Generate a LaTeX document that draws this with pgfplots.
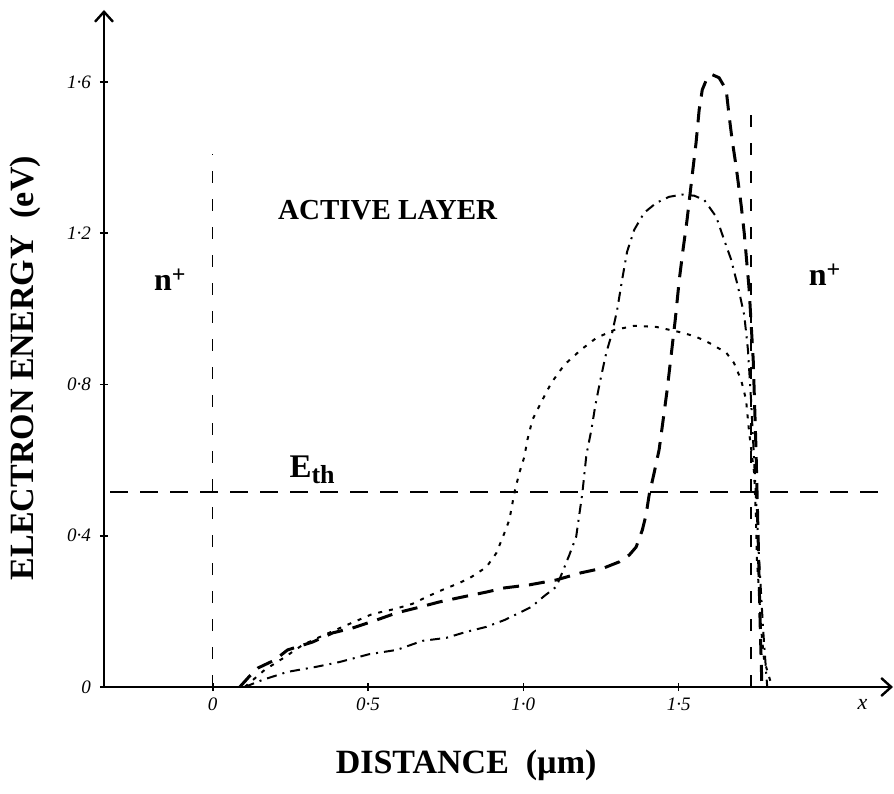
\documentclass[border=0pt]{standalone}
\usepackage{fontspec}
\setmainfont{Liberation Serif}
\usepackage{pgfplots}
\pgfplotsset{compat=1.18}
\usetikzlibrary{arrows.meta}

\pgfplotstableread{
x y
0.087 0
0.119 0.029
0.145 0.050
0.199 0.071
0.241 0.098
0.322 0.119
0.386 0.143
0.450 0.156
0.527 0.177
0.592 0.196
0.656 0.209
0.730 0.225
0.804 0.238
0.881 0.251
0.939 0.262
1.019 0.270
1.106 0.283
1.186 0.302
1.260 0.315
1.309 0.331
1.341 0.349
1.363 0.370
1.383 0.415
1.395 0.455
1.405 0.508
1.421 0.566
1.437 0.627
1.450 0.706
1.463 0.786
1.476 0.878
1.489 0.971
1.502 1.077
1.514 1.156
1.527 1.235
1.543 1.349
1.556 1.439
1.566 1.526
1.576 1.579
1.592 1.611
1.608 1.619
1.630 1.611
1.653 1.579
1.662 1.513
1.672 1.447
1.685 1.376
1.701 1.275
1.711 1.201
1.727 1.050
1.740 0.865
1.749 0.627
1.756 0.389
1.762 0.177
1.768 0
}\longdash

\pgfplotstableread{
x y
0.103 0
0.161 0.019
0.241 0.040
0.331 0.053
0.408 0.066
0.505 0.087
0.592 0.098
0.675 0.122
0.752 0.130
0.817 0.146
0.881 0.159
0.939 0.177
0.987 0.196
1.026 0.212
1.068 0.241
1.106 0.265
1.125 0.302
1.148 0.349
1.170 0.397
1.180 0.455
1.190 0.513
1.203 0.614
1.219 0.680
1.232 0.746
1.248 0.812
1.267 0.884
1.286 0.937
1.302 0.997
1.318 1.077
1.334 1.151
1.357 1.209
1.389 1.254
1.428 1.280
1.469 1.296
1.511 1.302
1.550 1.299
1.582 1.288
1.621 1.243
1.646 1.183
1.669 1.130
1.691 1.058
1.711 0.984
1.723 0.892
1.733 0.759
1.746 0.548
1.759 0.336
1.772 0.151
1.785 0
}\dashdot

\pgfplotstableread{
x y
0.103 0
0.167 0.045
0.232 0.079
0.289 0.111
0.344 0.132
0.418 0.159
0.514 0.193
0.585 0.206
0.643 0.220
0.688 0.238
0.740 0.257
0.794 0.275
0.833 0.291
0.881 0.317
0.913 0.354
0.939 0.407
0.955 0.442
0.971 0.513
0.987 0.566
1.003 0.608
1.013 0.653
1.029 0.706
1.058 0.754
1.090 0.804
1.132 0.852
1.186 0.892
1.235 0.923
1.293 0.944
1.357 0.955
1.428 0.952
1.511 0.937
1.556 0.926
1.598 0.910
1.653 0.884
1.678 0.857
1.701 0.812
1.717 0.759
1.727 0.672
1.743 0.566
1.749 0.442
1.752 0.336
1.759 0.249
1.765 0.159
1.775 0.071
1.801 0
}\dotted

\begin{document}
\begin{tikzpicture}
\begin{axis}[
  scale only axis, width=394.5pt, height=338.5pt,
  xmin=-0.35, xmax=2.19, ymin=0, ymax=1.79,
  axis lines=left,
  axis line style={line width=1.2pt, -{Straight Barb[length=5pt,width=9pt,line width=1.2pt]}},
  xtick={0,0.5,1,1.5}, xticklabels={0, 0·5, 1·0, 1·5},
  ytick={0,0.4,0.8,1.2,1.6}, yticklabels={0, 0·4, 0·8, 1·2, 1·6},
  ticklabel style={font=\fontsize{9.5}{10}\selectfont\itshape},
  yticklabel style={xshift=-1pt},
  tick style={line width=0.8pt, black},
  major tick length=4pt, tick align=center,
  xlabel={\textbf{DISTANCE\ \ (µm)}},
  ylabel={\textbf{ELECTRON ENERGY\ \ (eV)}},
  label style={font=\fontsize{17}{17}\selectfont},
  xlabel style={at={(axis description cs:0.459,0)}, anchor=center, yshift=-39pt},
  ylabel style={at={(axis description cs:0,0.471)}, anchor=center, yshift=39.5pt},
  clip=false,
]
\coordinate (bl) at (axis cs:-0.35,0);
\coordinate (tr) at (axis cs:2.19,1.79);
% boundaries
\addplot[black, line width=0.7pt, dash pattern=on 6pt off 8pt] coordinates {(0,0) (0,1.41)};
\addplot[black, line width=0.7pt, dash pattern=on 6pt off 8pt] coordinates {(1.733,0) (1.733,1.55)};
% threshold
\addplot[black, line width=0.8pt, dash pattern=on 9pt off 6pt] coordinates {(-0.33,0.516) (2.145,0.516)};
% curves
\addplot[black, line width=1.5pt, dash pattern=on 8pt off 5pt] table[x=x,y=y] {\longdash};
\addplot[black, line width=1pt, dash pattern=on 5pt off 3pt on 1pt off 3pt] table[x=x,y=y] {\dashdot};
\addplot[black, line width=1pt, dash pattern=on 2pt off 3.5pt] table[x=x,y=y] {\dotted};
% labels
\node[font=\fontsize{14.5}{15}\selectfont\bfseries] at (axis cs:0.563,1.262) {ACTIVE LAYER};
\node[font=\fontsize{16}{16}\selectfont\bfseries] at (axis cs:-0.138,1.077) {n\raisebox{0.55ex}{\fontsize{12}{12}\selectfont +}};
\node[font=\fontsize{16}{16}\selectfont\bfseries] at (axis cs:1.97,1.09) {n\raisebox{0.55ex}{\fontsize{12}{12}\selectfont +}};
\node[font=\fontsize{16.5}{17}\selectfont\bfseries] at (axis cs:0.32,0.574) {E\raisebox{-0.4ex}{\fontsize{13}{13}\selectfont th}};
\node[font=\fontsize{11}{11}\selectfont\itshape, anchor=north] at (axis cs:2.092,-0.015) {x};
\end{axis}
\pgfresetboundingbox
\path ([shift={(-52pt,-53pt)}]bl) rectangle ([shift={(0.5pt,5pt)}]tr);
\end{tikzpicture}
\end{document}
